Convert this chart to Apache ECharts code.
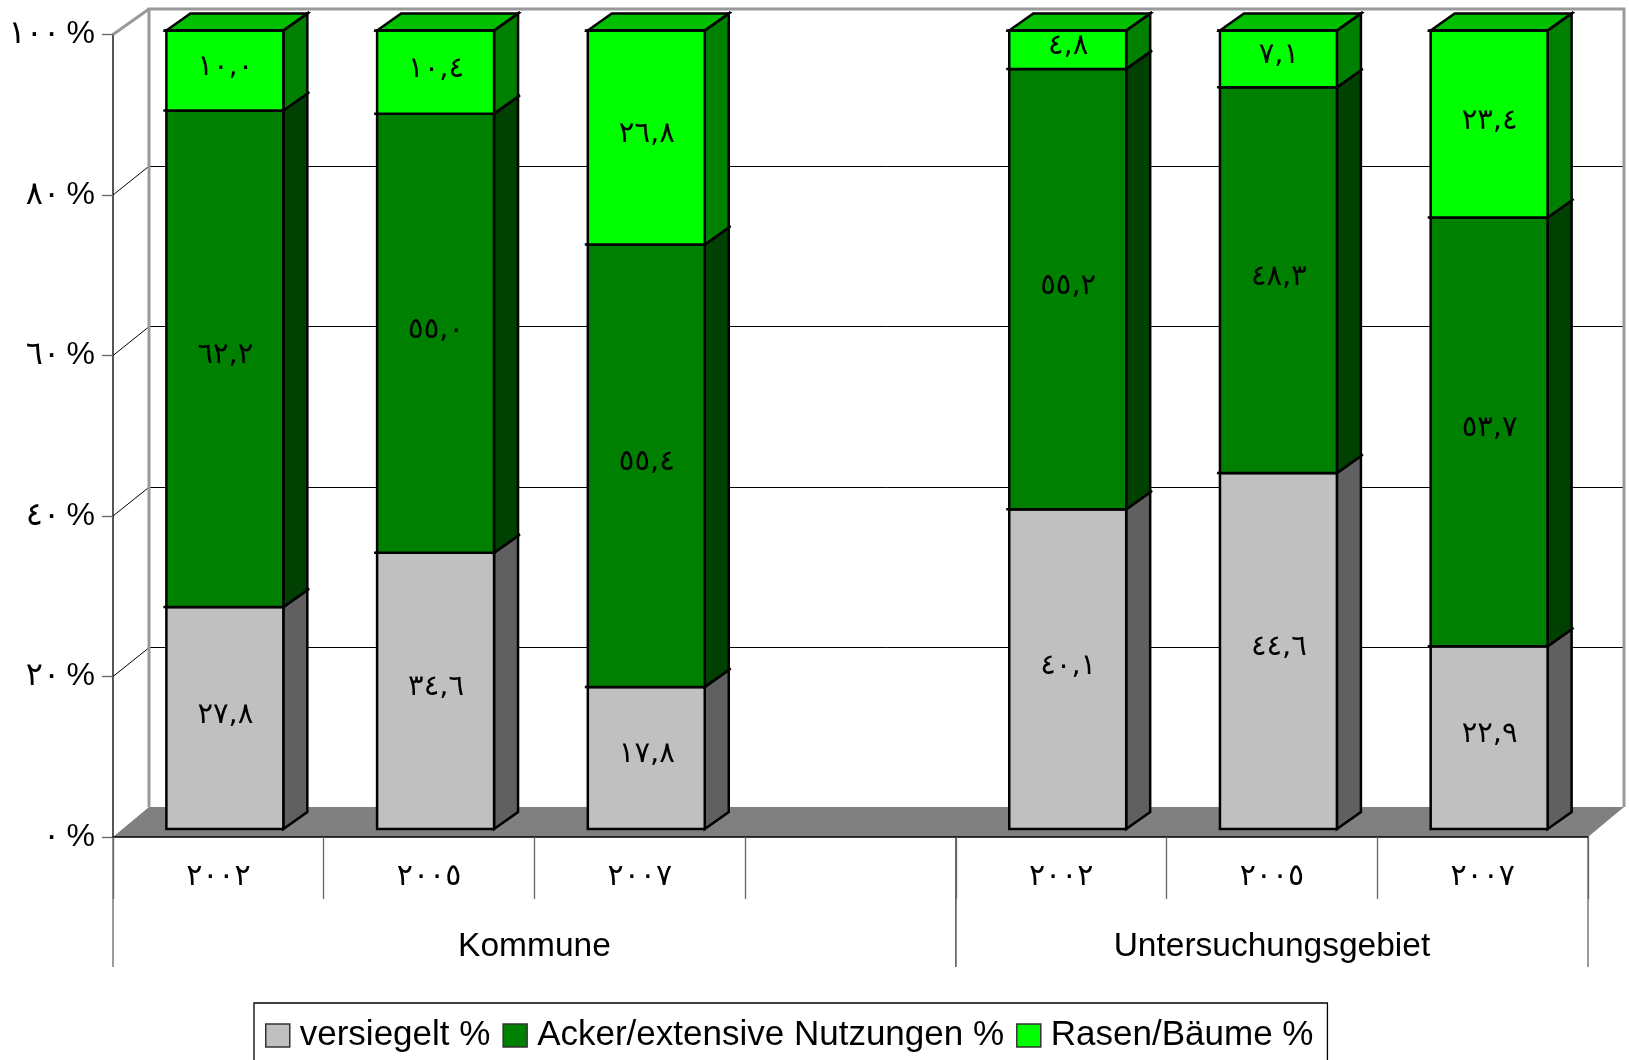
<!DOCTYPE html>
<html><head><meta charset="utf-8">
<style>html,body{margin:0;padding:0;background:#fff}#c{width:1629px;height:1060px}</style>
<script src="https://cdn.jsdelivr.net/npm/echarts@6/dist/echarts.min.js"></script>
</head><body><div id="c"></div>
<script>
const slots = ['٢٠٠٢','٢٠٠٥','٢٠٠٧','','٢٠٠٢','٢٠٠٥','٢٠٠٧'];
const groups = [[0,4,'Kommune'],[4,7,'Untersuchungsgebiet']];
const versiegelt = [27.8,34.6,17.8,null,40.1,44.6,22.9];
const acker      = [62.2,55.0,55.4,null,55.2,48.3,53.7];
const rasen      = [10.0,10.4,26.8,null,4.8,7.1,23.4];
const yTicks = [0,20,40,60,80,100];
const yTickLabels = ['٠\u2009%','٢٠\u2009%','٤٠\u2009%','٦٠\u2009%','٨٠\u2009%','١٠٠\u2009%'];
const seriesNames = ['versiegelt %','Acker/extensive Nutzungen %','Rasen/Bäume %'];

const FONT = '"Liberation Sans","DejaVu Sans",Arial,sans-serif';
const AR = '٠١٢٣٤٥٦٧٨٩';
const toArabic = v => v.toFixed(1).replace('.',',').replace(/\d/g,d=>AR[+d]);
const layers = [
  {name:seriesNames[0],vals:versiegelt,front:'#C0C0C0',side:'#606060'},
  {name:seriesNames[1],vals:acker,front:'#008000',side:'#004000'},
  {name:seriesNames[2],vals:rasen,front:'#00FF00',side:'#008000',topFace:'#00C000'}
];
const BDX=24,BDY=17,LW=2.5;
const barSeries = layers.map((L,li)=>({
  type:'custom',name:L.name,xAxisIndex:2,yAxisIndex:1,z:5,clip:false,
  itemStyle:{color:L.front},
  data:slots.map((s,i)=>{
    if(L.vals[i]==null) return [i,0,0,null];
    const all=layers.map(l=>l.vals[i]);
    const sum=all.reduce((a,b)=>a+b,0);
    const base=all.slice(0,li).reduce((a,b)=>a+b,0)/sum*100;
    return [i,base,base+L.vals[i]/sum*100,L.vals[i]];
  }),
  encode:{x:0,y:[1,2]},
  renderItem(p,api){
    if(api.value(3)==null||isNaN(api.value(3))) return null;
    const c=api.coord([api.value(0),0]);
    const w=api.size([1,0])[0]*0.555;
    const xL=c[0]-w/2-0.5,xR=c[0]+w/2-0.5;
    const yB=api.coord([api.value(0),api.value(1)])[1];
    const yT=api.coord([api.value(0),api.value(2)])[1];
    const stroke={stroke:'#000',lineWidth:LW,lineJoin:'miter'};
    const ch=[];
    ch.push({type:'polygon',shape:{points:[[xR,yB],[xR+BDX,yB-BDY],[xR+BDX,yT-BDY],[xR,yT]]},style:{fill:L.side,...stroke}});
    if(L.topFace) ch.push({type:'polygon',shape:{points:[[xL,yT],[xR,yT],[xR+BDX,yT-BDY],[xL+BDX,yT-BDY]]},style:{fill:L.topFace,...stroke}});
    ch.push({type:'rect',shape:{x:xL,y:yT,width:w,height:yB-yT},style:{fill:L.front,...stroke}});
    ch.push({type:'polyline',shape:{points:[[xL-3,yT],[xR,yT],[xR+BDX+2,yT-BDY-1.5]]},style:{fill:'none',...stroke}});
    ch.push({type:'text',style:{text:toArabic(api.value(3)),x:c[0],y:(yB+yT)/2-3,align:'center',verticalAlign:'middle',font:'29px "DejaVu Sans"',fill:'#000'}});
    return {type:'group',children:ch};
  }
}));

const wallSeries = {
  type:'custom',silent:true,xAxisIndex:1,yAxisIndex:0,z:1,clip:false,
  data:yTicks.map(v=>[v]),encode:{y:0},
  renderItem(p,api){
    const v=api.value(0);
    const f0=api.coord([0,v]),f1=api.coord([7,v]);
    const ch=[];
    if(v===0){
      ch.push({type:'polygon',shape:{points:[f0,f1,[f1[0]+36,f1[1]-30],[f0[0]+36,f0[1]-30]]},style:{fill:'#808080'}});
    } else if(v===100){
      const b=api.coord([0,0]),b1=api.coord([7,0]);
      const s={stroke:'#999',lineWidth:3,fill:'none'};
      ch.push({type:'polyline',shape:{points:[[b[0]+36,b[1]-30],[f0[0]+36,f0[1]-25.5],[f1[0]+36,f1[1]-25.5],[b1[0]+36,b1[1]-30]]},style:s});
      ch.push({type:'line',shape:{x1:f0[0],y1:f0[1],x2:f0[0]+36,y2:f0[1]-25.5},style:{stroke:'#999',lineWidth:3}});
    } else {
      ch.push({type:'line',shape:{x1:f0[0],y1:f0[1],x2:f0[0]+35,y2:f0[1]-28},style:{stroke:'#000',lineWidth:1}});
    }
    return {type:'group',children:ch};
  }
};

const groupSeries = {
  type:'custom',silent:true,xAxisIndex:1,yAxisIndex:0,z:3,clip:false,
  data:groups.map(g=>[g[0],g[1]]),encode:{x:[0,1]},
  renderItem(p,api){
    const a=api.coord([api.value(0),0]),b=api.coord([api.value(1),0]);
    const g=groups[p.dataIndex];
    const l=x=>({type:'line',shape:{x1:x,y1:a[1],x2:x,y2:a[1]+130},style:{stroke:'#666',lineWidth:1.3}});
    return {type:'group',children:[l(a[0]),l(b[0]),
      {type:'text',style:{text:g[2],x:(a[0]+b[0])/2,y:a[1]+110,align:'center',verticalAlign:'middle',font:'33.5px '+FONT,fill:'#000'}}]};
  }
};

const chart=echarts.init(document.getElementById('c'),null,{renderer:'canvas'});
chart.setOption({
  animation:false,backgroundColor:'#fff',
  grid:[
    {left:113,top:34.5,width:1475,height:802.5},
    {left:120,top:30.6,width:1475,height:798.4},
    {left:149,top:6.5,width:1475,height:800.5}
  ],
  xAxis:[
    {type:'category',gridIndex:0,data:slots,z:4,
     axisLine:{show:true,lineStyle:{color:'#000',width:1.5}},
     axisTick:{show:true,length:62,alignWithLabel:false,lineStyle:{color:'#666',width:1.3}},
     axisLabel:{show:true,interval:0,margin:25,color:'#000',fontSize:30,fontFamily:'"DejaVu Sans"'}},
    {type:'value',gridIndex:0,min:0,max:7,show:false},
    {type:'category',gridIndex:1,data:slots,show:false},
    {type:'category',gridIndex:2,data:slots,show:false}
  ],
  yAxis:[
    {type:'value',gridIndex:0,min:0,max:100,interval:20,
     axisLine:{show:true,lineStyle:{color:'#555',width:2}},
     axisTick:{show:true,length:11,lineStyle:{color:'#666',width:1.3}},
     splitLine:{show:false},
     axisLabel:{margin:18,color:'#000',fontSize:32,fontFamily:FONT,padding:[4,0,0,0],
       formatter:v=>yTickLabels[yTicks.indexOf(v)]}},
    {type:'value',gridIndex:1,min:0,max:100,show:false,splitLine:{show:false}},
    {type:'value',gridIndex:2,min:0,max:100,interval:20,
     axisLine:{show:false},axisTick:{show:false},axisLabel:{show:false},
     splitLine:{show:true,showMinLine:false,showMaxLine:false,lineStyle:{color:'#000',width:1}}}
  ],
  legend:{
    left:254,top:1003,orient:'horizontal',data:seriesNames,
    padding:[15,14,23,11],itemGap:12,itemWidth:24,itemHeight:23,icon:'rect',
    borderColor:'#000',borderWidth:1.3,backgroundColor:'#fff',
    itemStyle:{borderColor:'#333',borderWidth:1.5},
    textStyle:{color:'#000',fontSize:35,fontFamily:FONT,padding:[0,0,0,5]},
    selectedMode:false
  },
  series:[wallSeries,...barSeries,groupSeries]
});
</script></body></html>
